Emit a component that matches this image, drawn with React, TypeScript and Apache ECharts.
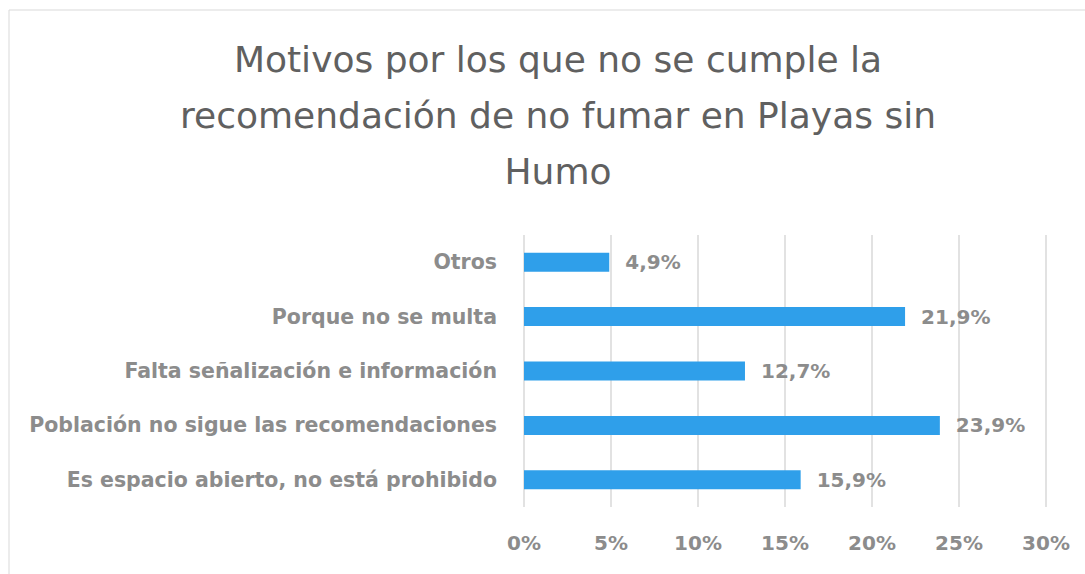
import React, { useEffect, useRef } from "react";
import * as echarts from "echarts";

const categories = [
  "Es espacio abierto, no está prohibido",
  "Población no sigue las recomendaciones",
  "Falta señalización e información",
  "Porque no se multa",
  "Otros",
];
const values = [15.9, 23.9, 12.7, 21.9, 4.9];
const titleText = "Motivos por los que no se cumple la\nrecomendación de no fumar en Playas sin\nHumo";
const FONT = "DejaVu Sans";

export default function App() {
  const ref = useRef<HTMLDivElement>(null);
  useEffect(() => {
    if (!ref.current) return;
    const chart = echarts.init(ref.current, undefined, { renderer: "svg" });
    chart.setOption({
      animation: false,
      backgroundColor: "#ffffff",
      graphic: [
        {
          type: "rect",
          z: -10,
          shape: { x: 9, y: 10, width: 1200, height: 700 },
          style: { fill: "#ffffff", stroke: "#d9d9d9", lineWidth: 1 },
        },
      ],
      title: {
        text: titleText,
        left: 553,
        top: 26,
        textAlign: "center",
        textStyle: {
          fontFamily: FONT,
          fontSize: 36,
          fontWeight: "normal",
          color: "#606060",
          lineHeight: 56,
        },
      },
      grid: { left: 524, right: 39, top: 235, bottom: 67, containLabel: false },
      xAxis: {
        type: "value",
        min: 0,
        max: 30,
        interval: 5,
        axisLine: { show: false },
        axisTick: { show: false },
        splitLine: { show: true, lineStyle: { color: "#d9d9d9", width: 1.5 } },
        axisLabel: {
          formatter: "{value}%",
          margin: 26,
          fontFamily: FONT,
          fontSize: 20,
          fontWeight: "bold",
          color: "#8c8c8c",
        },
      },
      yAxis: {
        type: "category",
        data: categories,
        axisLine: { show: false },
        axisTick: { show: false },
        splitLine: { show: false },
        axisLabel: {
          margin: 27,
          fontFamily: FONT,
          fontSize: 20.5,
          fontWeight: "bold",
          color: "#8c8c8c",
        },
      },
      series: [
        {
          type: "bar",
          data: values,
          barWidth: "35%",
          itemStyle: { color: "#2f9fea" },
          label: {
            show: true,
            position: "right",
            distance: 16,
            formatter: (p: any) => p.value.toFixed(1).replace(".", ",") + "%",
            fontFamily: FONT,
            fontSize: 20,
            fontWeight: "bold",
            color: "#8c8c8c",
          },
        },
      ],
    });
    return () => chart.dispose();
  }, []);
  return (
    <div
      ref={ref}
      style={{ position: "fixed", left: 0, top: 0, width: 1085, height: 574 }}
    />
  );
}
